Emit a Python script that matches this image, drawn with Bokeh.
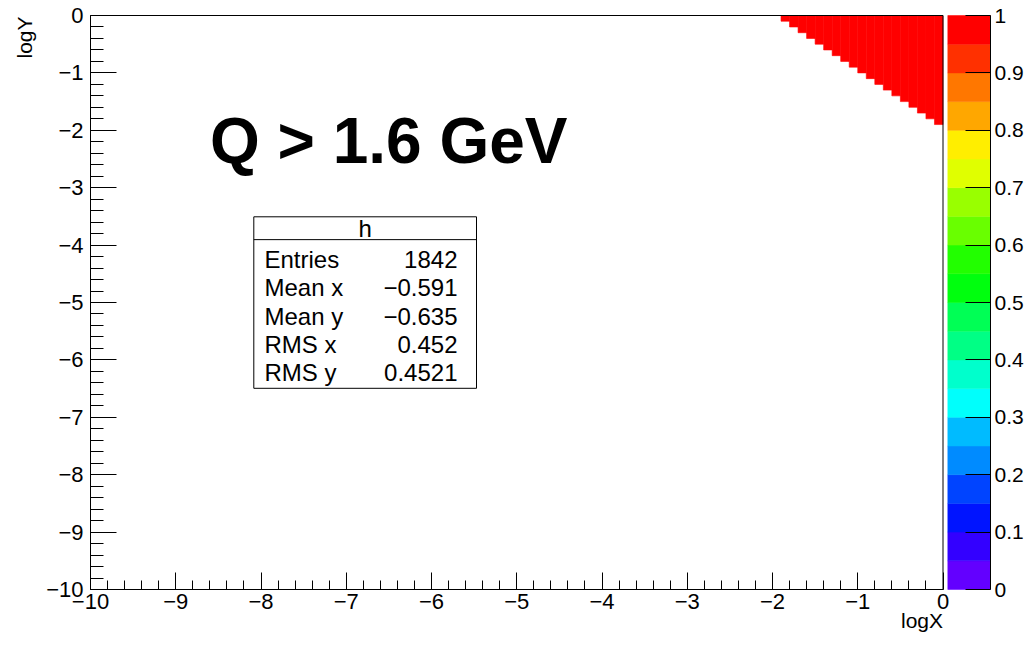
import colorsys
import numpy as np
from bokeh.plotting import figure
from bokeh.models import Range1d, LinearAxis, FixedTicker, LinearColorMapper, ColumnDataSource
from bokeh.core.properties import value
from bokeh.embed import file_html
from bokeh.resources import INLINE

# ---------------- data ----------------
x_tick_values = [-10, -9, -8, -7, -6, -5, -4, -3, -2, -1, 0]
x_tick_labels = ["−10", "−9", "−8", "−7", "−6", "−5", "−4", "−3", "−2", "−1", "0"]
y_tick_values = [-10, -9, -8, -7, -6, -5, -4, -3, -2, -1, 0]
y_tick_labels = ["−10", "−9", "−8", "−7", "−6", "−5", "−4", "−3", "−2", "−1", "0"]
z_tick_values = [0.0, 0.1, 0.2, 0.3, 0.4, 0.5, 0.6, 0.7, 0.8, 0.9, 1.0]
z_tick_labels = ["0", "0.1", "0.2", "0.3", "0.4", "0.5", "0.6", "0.7", "0.8", "0.9", "1"]

bin_width = 0.1
# filled histogram columns: lower x edge, lowest filled y edge, bin content
col_xlow = [-1.9, -1.8, -1.7, -1.6, -1.5, -1.4, -1.3, -1.2, -1.1, -1.0,
            -0.9, -0.8, -0.7, -0.6, -0.5, -0.4, -0.3, -0.2, -0.1]
col_ylow = [-0.1, -0.2, -0.3, -0.4, -0.5, -0.6, -0.7, -0.8, -0.9, -1.0,
            -1.1, -1.2, -1.3, -1.4, -1.5, -1.6, -1.7, -1.8, -1.9]
col_z = [1.0] * 19

hist_name = "h"
stats_names = ["Entries", "Mean x", "Mean y", "RMS x", "RMS y"]
stats_values = ["1842", "−0.591", "−0.635", "0.452", "0.4521"]
title_text = "Q > 1.6 GeV"
x_title = "logX"
y_title = "logY"

# ---------------- style / geometry ----------------
FONT = "Liberation Sans"
TICK_FS = "22px"

pretty = []
for i in range(50):
    hue = 280.0 - (i + 1) * (280.0 / 50)
    r, g, b = colorsys.hls_to_rgb((hue % 360) / 360.0, 0.5, 1.0)
    pretty.append("#%02x%02x%02x" % (round(r * 255), round(g * 255), round(b * 255)))
ncont = 20
palette = [pretty[int((k + 0.99) * 50 / ncont)] for k in range(ncont)]

W, H = 1025, 632
X0, X1, Y0, Y1 = -10.0, 0.0, -10.0, 0.0
PX_L, PX_R = 90.0, 942.5        # pixel of x=-10 and x=0
PX_T, PX_B = 15.0, 589.0        # pixel of y=0 and y=-10
SX = (PX_R - PX_L) / (X1 - X0)
SY = (PX_B - PX_T) / (Y1 - Y0)
SZ = (PX_B - PX_T)

def xd(px):
    return X0 + (px - PX_L) / SX

def yd(px):               # our pixel -> data
    return Y1 - (px - PX_T) / SY

def yr(px_ref):           # reference pixel (frame 17.3..595.3) -> data
    return -(px_ref - 17.3) / 57.8

x_range = Range1d(xd(0), xd(W))
y_range = Range1d(yd(H), yd(0))
z_range = Range1d(-(H - PX_B) / SZ, 1 + PX_T / SZ)

CB_LEFT = xd(947.3)
CB_RIGHT = xd(990.0)

p = figure(width=W, height=H, x_range=x_range, y_range=y_range,
           output_backend="svg", toolbar_location=None,
           min_border_left=0, min_border_right=0, min_border_top=0, min_border_bottom=0)
p.grid.visible = False
p.outline_line_color = None
p.background_fill_color = "white"
p.border_fill_color = "white"
p.extra_y_ranges = {"z": z_range}

mapper = LinearColorMapper(palette=palette, low=0.0, high=1.0)

# histogram cells
src = ColumnDataSource(dict(left=col_xlow,
                            right=[x + bin_width for x in col_xlow],
                            bottom=col_ylow,
                            top=[Y1] * len(col_xlow),
                            z=col_z))
p.quad(left="left", right="right", bottom="bottom", top="top", source=src,
       fill_color={"field": "z", "transform": mapper},
       line_color={"field": "z", "transform": mapper}, line_width=0.6)

# palette
z_edges = np.linspace(0, 1, ncont + 1)
p.quad(left=CB_LEFT, right=CB_RIGHT, bottom=z_edges[:-1], top=z_edges[1:],
       fill_color=palette, line_color=palette, line_width=0.5, y_range_name="z")

# frame box
p.quad(left=X0, right=X1, bottom=Y0, top=Y1, fill_color=None, line_color="black", line_width=1)

# axes (fixed inside the full-size frame)
minor = [v for v in np.round(np.arange(-10, 0.001, 0.2), 2) if abs(v - round(v)) > 1e-6]
xa = p.xaxis[0]
xa.ticker = FixedTicker(ticks=x_tick_values, minor_ticks=minor)
xa.major_label_overrides = dict(zip(x_tick_values, x_tick_labels))
xa.bounds = (X0, X1)
xa.fixed_location = Y0
xa.major_tick_in = 17
xa.major_tick_out = 0
xa.minor_tick_in = 9
xa.minor_tick_out = 0
xa.major_label_standoff = 4

ya = p.yaxis[0]
ya.ticker = FixedTicker(ticks=y_tick_values, minor_ticks=minor)
ya.major_label_overrides = dict(zip(y_tick_values, y_tick_labels))
ya.bounds = (Y0, Y1)
ya.fixed_location = X0
ya.major_tick_in = 26
ya.major_tick_out = 0
ya.minor_tick_in = 13
ya.minor_tick_out = 0
ya.major_label_standoff = 7

za = LinearAxis(y_range_name="z", ticker=FixedTicker(ticks=z_tick_values, minor_ticks=[]))
za.major_label_overrides = dict(zip(z_tick_values, z_tick_labels))
za.bounds = (0, 1)
za.fixed_location = CB_RIGHT
za.major_tick_in = 25
za.major_tick_out = 0
za.minor_tick_in = 0
za.minor_tick_out = 0
za.major_label_standoff = 4
p.add_layout(za, "right")

for ax in (xa, ya, za):
    ax.axis_line_color = "black"
    ax.major_tick_line_color = "black"
    ax.minor_tick_line_color = "black"
    ax.major_label_text_font = FONT
    ax.major_label_text_font_size = TICK_FS
    ax.major_label_text_color = "black"
za.major_label_text_font_size = "21px"

# axis titles (anchored at cap-height centre)
p.text(x=[X1], y=[yd(619.5)], text=[x_title], text_font=value(FONT), text_font_size="21px",
       text_align="right", text_baseline="middle", text_color="black")
p.text(x=[xd(23.5)], y=[yr(18.3)], text=[y_title], angle=np.pi / 2, text_font=value(FONT),
       text_font_size="21px", text_align="right", text_baseline="middle", text_color="black")

# big title
p.text(x=[xd(209.5)], y=[yr(143.4)], text=[title_text], text_font=value(FONT), text_font_size="64px",
       text_font_style="bold", text_color="black", text_align="left", text_baseline="middle")

# stats box
BL, BR = xd(253.3), xd(476.0)
BT, BB, BSEP = yr(220), yr(392.7), yr(243)
p.quad(left=BL, right=BR, bottom=BB, top=BT, fill_color="white", line_color="black", line_width=1)
p.segment(x0=[BL], y0=[BSEP], x1=[BR], y1=[BSEP], line_color="black", line_width=1)
p.text(x=[(BL + BR) / 2], y=[yr(232)], text=[hist_name], text_font=value(FONT),
       text_font_size="24px", text_align="center", text_baseline="middle", text_color="black")
row_y = [yr(263), yr(291.5), yr(320), yr(348.5), yr(377)]
p.text(x=[xd(264)] * 5, y=row_y, text=stats_names, text_font=value(FONT), text_font_size="24px",
       text_align="left", text_baseline="middle", text_color="black")
p.text(x=[xd(457)] * 5, y=row_y, text=stats_values, text_font=value(FONT), text_font_size="24px",
       text_align="right", text_baseline="middle", text_color="black")

open("out.html", "w").write(file_html(p, INLINE))
